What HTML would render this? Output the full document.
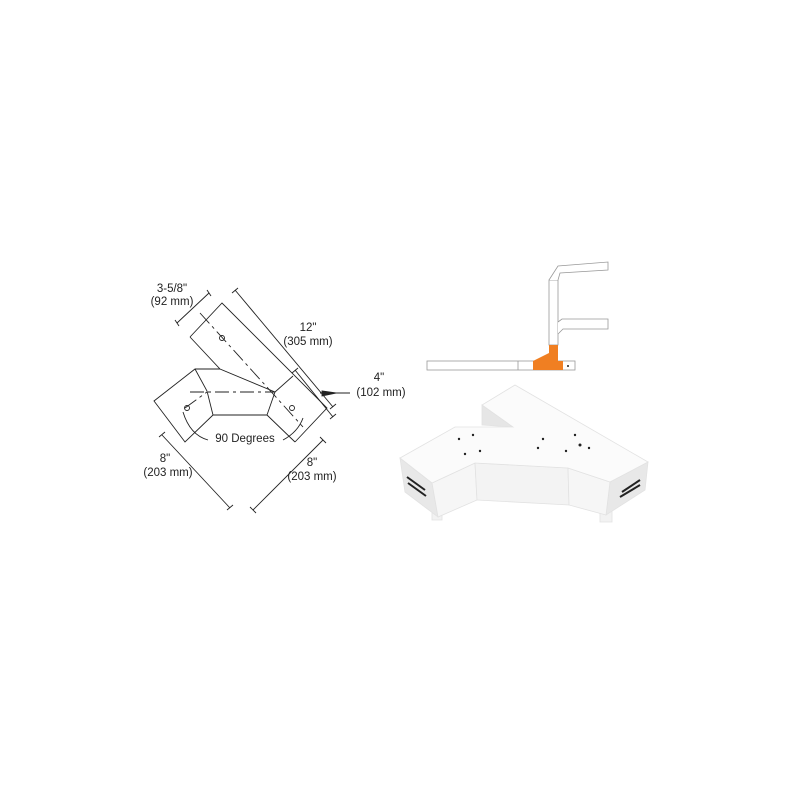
<!DOCTYPE html>
<html><head><style>body{margin:0;background:#fff}svg{display:block}text{font-family:"Liberation Sans",sans-serif;font-size:11.5px;fill:#222}</style></head>
<body>
<svg width="800" height="800" viewBox="0 0 800 800">
<g stroke="#222" stroke-width="0.9" fill="none">
<polyline points="190,337 222,303 327,408 295,442"/>
<polyline points="190,337 220,369 275,392 267,415"/>
<polyline points="275,392 293,376"/>
<polyline points="220,369 195,369 154,401 185,442 213,415 267,415"/>
<polyline points="195,369 207,391 213,415"/>
<polyline points="267,415 295,442"/>
<g stroke-dasharray="14,4,3,4">
<line x1="200" y1="313" x2="303" y2="427"/>
<line x1="190" y1="392" x2="275" y2="392"/>
<line x1="185" y1="408" x2="207" y2="392"/>
</g>
<circle cx="222" cy="338" r="2.5"/><circle cx="187" cy="408" r="2.5"/><circle cx="292" cy="408" r="2.5"/>
<line x1="177" y1="323" x2="209" y2="293"/>
<line x1="175" y1="320" x2="179" y2="326"/><line x1="207" y1="290" x2="211" y2="296"/>
<line x1="235" y1="290" x2="333" y2="407"/>
<line x1="238" y1="288" x2="232" y2="293"/><line x1="336" y1="404" x2="330" y2="409"/>
<line x1="295" y1="370" x2="333" y2="417"/>
<line x1="298" y1="368" x2="292" y2="373"/><line x1="336" y1="414" x2="330" y2="419"/>
<line x1="320" y1="393" x2="350" y2="393"/>
<polygon points="322,391 336,393 322,396" fill="#222"/>
<line x1="162" y1="435" x2="230" y2="508"/>
<line x1="159" y1="437" x2="165" y2="432"/><line x1="227" y1="510" x2="233" y2="505"/>
<line x1="323" y1="440" x2="253" y2="510"/>
<line x1="320" y1="437" x2="326" y2="443"/><line x1="250" y1="507" x2="256" y2="513"/>
<path d="M183,412 Q190,435 208,440"/>
<path d="M283,440 Q298,432 303,418"/>
</g>
<text x="172" y="292" text-anchor="middle">3-5/8"</text>
<text x="172" y="305" text-anchor="middle">(92 mm)</text>
<text x="308" y="331" text-anchor="middle">12"</text>
<text x="308" y="345" text-anchor="middle">(305 mm)</text>
<text x="379" y="381" text-anchor="middle">4"</text>
<text x="381" y="396" text-anchor="middle">(102 mm)</text>
<text x="245" y="442" text-anchor="middle">90 Degrees</text>
<text x="165" y="462" text-anchor="middle">8"</text>
<text x="168" y="476" text-anchor="middle">(203 mm)</text>
<text x="312" y="466" text-anchor="middle">8"</text>
<text x="312" y="480" text-anchor="middle">(203 mm)</text>
<g stroke="#999" stroke-width="0.8" fill="#fff">
<rect x="427" y="361" width="148" height="9"/>
<line x1="518" y1="361" x2="518" y2="370"/>
<rect x="549" y="280" width="9" height="65"/>
<polyline points="549,280 558,266 608,262 608,270 560,273 558,280"/>
<polyline points="558,322 562,319 608,319 608,329 563,329 558,334"/>
</g>
<polygon points="533,361 549,353 549,345 558,345 558,361 563,361 563,370 533,370" fill="#f07f22"/>
<circle cx="568" cy="366" r="1" fill="#222"/>
<g stroke="#e2e2e2" stroke-width="0.8">
<polygon points="432,505 442,505 442,520 432,520" fill="#f2f2f2"/>
<polygon points="600,505 612,505 612,522 600,522" fill="#f2f2f2"/>
<polygon points="400,458 432,483 438,517 405,492" fill="#e8e8e8"/>
<polygon points="610,482 648,462 645,490 606,515" fill="#e8e8e8"/>
<polygon points="432,483 475,463 477,500 438,517" fill="#f6f6f6"/>
<polygon points="475,463 568,468 569,505 477,500" fill="#f3f3f3"/>
<polygon points="568,468 610,482 606,515 569,505" fill="#f6f6f6"/>
<polygon points="482,405 513,427 482,425" fill="#e6e6e6"/>
<polygon points="400,458 455,427 513,427 482,405 515,385 648,462 610,482 568,468 475,463 432,483" fill="#fbfbfb"/>
</g>
<g stroke="#222" stroke-width="2">
<line x1="407" y1="477" x2="425" y2="490"/><line x1="408" y1="483" x2="426" y2="496"/>
<line x1="622" y1="492" x2="640" y2="480"/><line x1="620" y1="497" x2="640" y2="485"/>
</g>
<g fill="#222">
<circle cx="459" cy="439" r="1.2"/><circle cx="473" cy="435" r="1.2"/><circle cx="465" cy="454" r="1.2"/><circle cx="480" cy="451" r="1.2"/>
<circle cx="543" cy="439" r="1.2"/><circle cx="538" cy="448" r="1.2"/><circle cx="575" cy="435" r="1.2"/><circle cx="580" cy="445" r="1.5"/><circle cx="589" cy="448" r="1.2"/><circle cx="566" cy="451" r="1.2"/>
</g>
</svg>
</body></html>
